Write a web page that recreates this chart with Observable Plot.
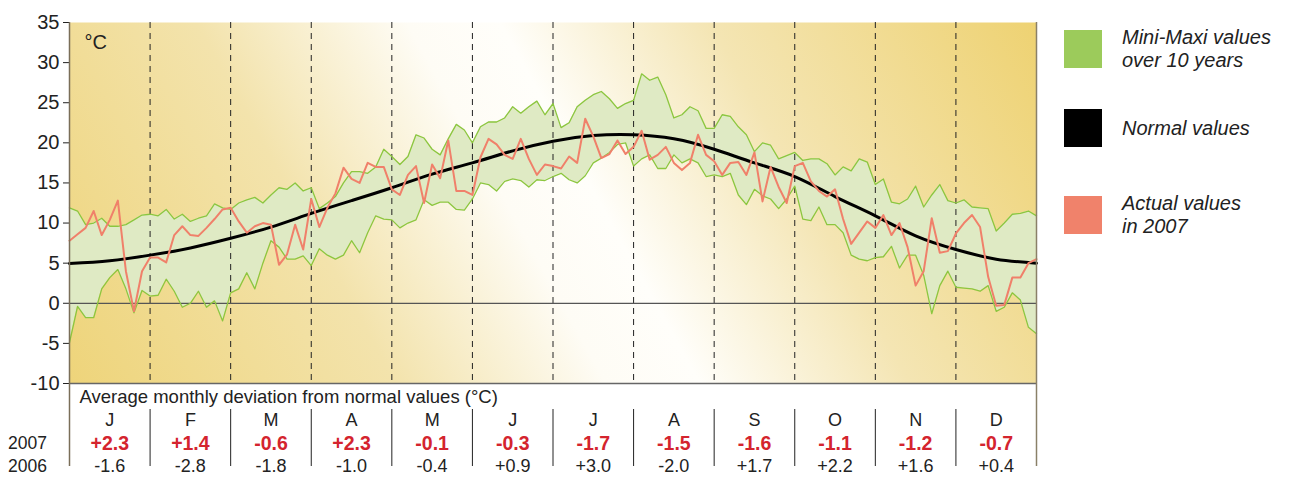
<!DOCTYPE html>
<html><head><meta charset="utf-8">
<script src="https://cdn.jsdelivr.net/npm/d3@7"></script>
<script src="https://cdn.jsdelivr.net/npm/@observablehq/plot@0.6"></script>
<style>
body{margin:0;background:#fff;font-family:'Liberation Sans',Arial,sans-serif;}
#wrap{position:relative;width:1300px;height:480px;overflow:hidden;}
#legend{position:absolute;left:1064px;top:0;}
.item{position:absolute;left:0;display:flex;align-items:center;white-space:nowrap;}
.sw{width:38px;height:38px;flex:none;}
.lab{margin-left:20px;font-style:italic;font-size:20px;line-height:23px;color:#222;}
svg.plot{display:block;}
</style></head><body>
<svg width="0" height="0" style="position:absolute"><defs>
<linearGradient id="bg" gradientUnits="userSpaceOnUse" x1="98" y1="436" x2="992" y2="-59">
<stop offset="0" stop-color="#eed47a"/>
<stop offset="0.28" stop-color="#f3e3ac"/>
<stop offset="0.46" stop-color="#fefcf5"/>
<stop offset="0.54" stop-color="#fffefa"/>
<stop offset="0.72" stop-color="#f4e5b3"/>
<stop offset="1" stop-color="#eed272"/>
</linearGradient></defs></svg>
<div id="wrap">
  <div id="chart"></div>
  <div id="table"></div>
  <div id="legend">
    <div class="item" style="top:26px"><div class="sw" style="background:#9ccb5b"></div><div class="lab">Mini-Maxi values<br>over 10 years</div></div>
    <div class="item" style="top:109px"><div class="sw" style="background:#000"></div><div class="lab">Normal values</div></div>
    <div class="item" style="top:192px"><div class="sw" style="background:#f0826b"></div><div class="lab">Actual values<br>in 2007</div></div>
  </div>
</div>
<script>
// Month labels and monthly deviations
const months = ["J","F","M","A","M","J","J","A","S","O","N","D"];
const dev2007 = [2.3, 1.4, -0.6, 2.3, -0.1, -0.3, -1.7, -1.5, -1.6, -1.1, -1.2, -0.7];
const dev2006 = [-1.6, -2.8, -1.8, -1.0, -0.4, 0.9, 3.0, -2.0, 1.7, 2.2, 1.6, 0.4];
const yTicks = [-10, -5, 0, 5, 10, 15, 20, 25, 30, 35];

// Series sampled every 1/10 month (121 samples, Jan 1 → Dec 31)
const maxVals = [11.9,11.5,9.8,10.0,10.6,9.6,9.6,9.8,10.4,11.0,
  11.1,10.9,11.7,10.5,11.1,10.2,10.6,10.9,12.4,11.9,
  11.7,12.5,12.9,13.2,12.5,13.5,14.4,14.2,15.0,14.0,
  14.4,11.8,12.5,13.3,15.0,16.4,16.4,16.2,17.0,19.2,
  18.3,17.3,18.3,21.0,20.6,19.2,18.5,20.5,22.3,21.6,
  20.0,22.0,22.6,22.6,23.1,24.5,23.7,24.5,25.2,23.5,
  24.9,21.9,22.5,24.5,25.3,26.0,26.4,25.5,24.3,24.9,
  25.3,28.6,27.8,28.2,26.0,23.1,23.5,24.5,24.0,21.8,
  21.8,23.5,23.3,22.0,21.0,18.9,20.0,19.7,18.0,18.4,
  18.8,17.8,18.0,18.0,17.4,16.0,17.0,16.5,18.0,17.6,
  14.8,15.5,12.6,12.4,13.0,14.6,12.0,13.5,14.8,12.8,
  12.5,12.9,12.0,11.9,11.8,9.0,10.0,11.1,11.2,11.5,10.9];
const minVals = [-4.9,-0.4,-1.8,-1.8,1.8,3.2,4.2,1.8,-1.2,1.6,
  0.9,1.0,3.0,1.5,-0.5,0.0,1.5,-0.5,0.3,-2.2,
  1.3,1.8,3.8,1.8,5.0,7.8,7.0,5.5,5.5,5.9,
  4.7,6.8,6.0,5.5,6.0,7.8,6.3,8.8,10.9,10.5,
  10.4,9.4,10.0,10.4,12.9,12.2,12.6,12.6,11.7,11.6,
  13.0,15.0,14.8,14.0,15.2,15.5,15.3,14.5,15.4,15.3,
  15.8,16.2,15.4,15.0,15.9,17.5,18.1,18.8,19.8,20.0,
  17.1,18.0,18.5,16.8,16.8,18.5,17.5,18.0,17.5,15.8,
  16.0,15.8,16.2,13.5,12.3,14.2,13.4,13.0,11.8,13.0,
  14.6,10.5,10.3,12.0,9.8,9.8,8.8,6.0,5.5,5.3,
  5.7,5.8,7.1,4.4,6.0,6.0,3.5,-1.3,2.2,4.0,
  2.0,1.9,1.8,1.5,2.2,-1.0,-0.5,1.3,0.4,-3.0,-3.8];
const actualVals = [7.8,8.6,9.4,11.5,8.5,10.4,12.8,4.0,-1.0,4.0,
  5.7,5.7,5.1,8.5,9.6,8.5,8.4,9.4,10.5,11.7,
  11.9,10.2,8.8,9.6,10.0,9.8,4.8,6.1,9.8,6.7,
  13.0,9.5,11.9,13.7,16.9,15.5,15.0,17.5,17.0,17.0,
  14.2,13.5,16.0,17.1,12.5,17.3,15.6,20.3,14.0,14.0,
  13.5,18.2,20.5,19.8,18.5,18.0,20.5,18.0,16.0,17.3,
  17.1,16.8,18.3,17.5,23.0,20.8,18.1,18.6,20.3,18.6,
  19.5,21.5,17.9,18.5,19.5,17.5,16.6,17.5,21.0,18.5,
  17.7,16.0,17.5,17.6,16.0,18.8,12.7,17.0,14.5,12.5,
  17.1,17.5,15.2,14.0,13.3,14.2,10.5,7.4,8.8,10.2,
  9.4,11.0,8.5,10.0,7.0,2.2,4.0,10.6,6.3,6.5,
  8.7,10.0,11.0,9.5,3.3,-0.3,-0.2,3.2,3.2,5.0,5.5];
// Normal values every half month
const normalVals = [4.95,5.3,6.0,6.9,8.1,9.5,11.2,12.8,14.4,16.1,17.5,19.0,20.2,
  20.9,21.0,20.5,19.2,17.5,15.8,13.3,10.9,8.4,6.7,5.5,5.0];

const series = maxVals.map((v, i) => ({m: i / 10, max: v, min: minVals[i], act: actualVals[i]}));
const normalData = normalVals.map((v, i) => ({m: i / 2, v}));
const monthStarts = months.slice(1).map((_, i) => i + 1);
const fmt = v => (v > 0 ? "+" : "") + v.toFixed(1);
const font = "'Liberation Sans', Arial, sans-serif";

const chart = Plot.plot({
  width: 1040, height: 383,
  marginLeft: 69, marginRight: 4, marginTop: 22, marginBottom: 0,
  style: {background: "transparent", overflow: "visible", fontFamily: font, fontSize: "20px", color: "#222"},
  x: {domain: [0, 12], axis: null},
  y: {domain: [-10, 35], ticks: yTicks, tickFormat: d => `${d}`, tickSize: 6, tickPadding: 4, label: null},
  marks: [
    Plot.frame({fill: "url(#bg)", stroke: "none"}),
    Plot.areaY(series, {x: "m", y1: "min", y2: "max", fill: "#dfeac4"}),
    Plot.ruleX(monthStarts, {stroke: "#222", strokeDasharray: "6,5", strokeWidth: 1}),
    Plot.ruleY([0], {stroke: "#555", strokeWidth: 1.3}),
    Plot.lineY(series, {x: "m", y: "min", stroke: "#8cc63f", strokeWidth: 1.3}),
    Plot.lineY(series, {x: "m", y: "max", stroke: "#8cc63f", strokeWidth: 1.3}),
    Plot.lineY(normalData, {x: "m", y: "v", stroke: "#000", strokeWidth: 3, curve: "natural"}),
    Plot.lineY(series, {x: "m", y: "act", stroke: "#f0806a", strokeWidth: 2}),
    Plot.ruleY([-10], {stroke: "#666", strokeWidth: 1.5}),
    Plot.ruleX([0], {stroke: "#7a6e58", strokeWidth: 1.5}),
    Plot.ruleX([12], {stroke: "#8a8068", strokeWidth: 1.5}),
    Plot.text(["°C"], {frameAnchor: "top-left", dx: 15, dy: 12, fontSize: 20, fill: "#222"})
  ]
});
document.getElementById("chart").appendChild(chart);

const rows = ["title", "month", "2007", "2006"];
const cols = months.map((mo, i) => ({x: i + 0.5, mo, a: fmt(dev2007[i]), b: fmt(dev2006[i])}));
const table = Plot.plot({
  width: 1040, height: 97,
  marginLeft: 69, marginRight: 4, marginTop: 14, marginBottom: 14,
  style: {background: "transparent", overflow: "visible", fontFamily: font, fontSize: "18px", color: "#222"},
  x: {domain: [0, 12], axis: null},
  y: {type: "point", domain: rows, axis: null, padding: 0},
  marks: [
    Plot.ruleX([0], {stroke: "#7a6e58", strokeWidth: 1.5, insetTop: -14}),
    Plot.ruleX([12], {stroke: "#8a8068", strokeWidth: 1.5, insetTop: -14}),
    Plot.ruleX(monthStarts, {stroke: "#222", strokeWidth: 1, insetTop: 12}),
    Plot.text(cols, {x: "x", y: () => "month", text: "mo", fill: "#222", fontSize: 18}),
    Plot.text(cols, {x: "x", y: () => "2007", text: "a", fill: "#d4242e", fontWeight: "bold", fontSize: 19.5}),
    Plot.text(cols, {x: "x", y: () => "2006", text: "b", fill: "#222", fontSize: 18}),
    Plot.text(["2007", "2006"], {y: d => d, text: d => d, frameAnchor: "left", textAnchor: "middle", dx: -42, fill: "#222", fontSize: 17.5}),
    Plot.text(["Average monthly deviation from normal values (°C)"], {y: () => "title", frameAnchor: "left", textAnchor: "start", dx: 10, fill: "#222", fontSize: 18.5})
  ]
});
document.getElementById("table").appendChild(table);
</script>
</body></html>
